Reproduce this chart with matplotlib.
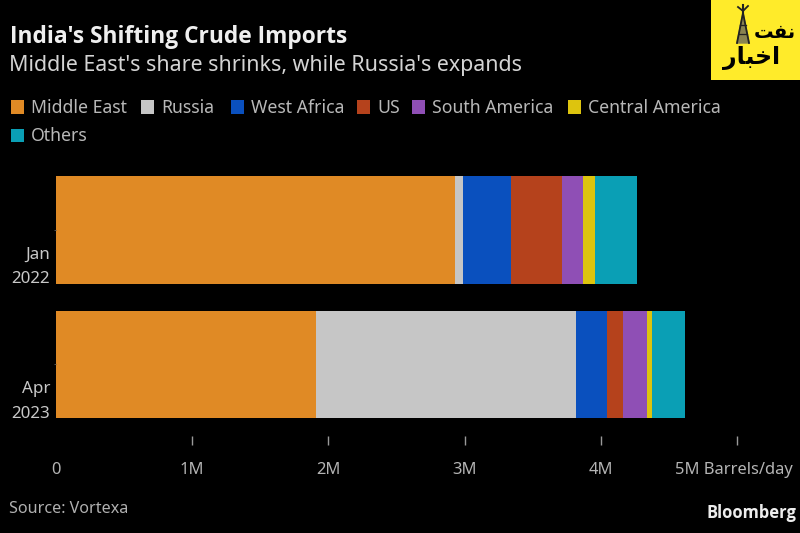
import matplotlib
matplotlib.use("Agg")
import matplotlib.pyplot as plt
from matplotlib.patches import Rectangle
from matplotlib.transforms import ScaledTranslation

W, H = 800, 533

periods = ["Jan\n2022", "Apr\n2023"]
regions = ["Middle East", "Russia", "West Africa", "US", "South America", "Central America", "Others"]
colors = ["#E08A25", "#C6C6C6", "#0A50BE", "#B5421C", "#8F4FB5", "#DDC40E", "#0A9FB5"]
jan_2022 = [2.93, 0.06, 0.35, 0.375, 0.155, 0.087, 0.31]
apr_2023 = [1.91, 1.91, 0.225, 0.118, 0.177, 0.036, 0.242]
xticks = [0, 1, 2, 3, 4, 5]
xticklabels = ["0", "1M", "2M", "3M", "4M", "5M Barrels/day"]

plt.rcParams["font.family"] = ["Noto Sans", "DejaVu Sans"]
fig = plt.figure(figsize=(W / 100, H / 100), dpi=100, facecolor="black")

def px(x, y):
    return x / W, 1 - y / H

#axes spans the 0-5M ticks, bottom edge sits at the top of the ticks
ax = fig.add_axes([56 / W, 1 - 436 / H, (737 - 56) / W, (436 - 162.75) / H], facecolor="black")
left = [0, 0]
for i in range(0, len(regions)):
    vals = [jan_2022[i], apr_2023[i]]
    ax.barh([0, 1], vals, left=left, height=0.8, color=colors[i], linewidth=0)
    left = [left[0] + vals[0], left[1] + vals[1]]
ax.set_xlim(0, 5)
ax.set_ylim(1.5316, -0.5)
for s in ax.spines.values():
    s.set_visible(False)
ax.set_xticks(xticks)
ax.set_xticklabels(xticklabels, fontsize=11.9, color="#B4B4B4")
ax.tick_params(axis="x", length=6.5, width=1, color="#9A9A9A", pad=12)
ax.xaxis.get_major_ticks()[0].tick1line.set_visible(False)
#last label sits a bit left of its tick
last = ax.get_xticklabels()[-1]
last.set_transform(last.get_transform() + ScaledTranslation(-3 / 100, 0, fig.dpi_scale_trans))
ax.set_yticks([0, 1])
ax.set_yticklabels([])
ax.tick_params(axis="y", length=1.5, width=0.7, color="#555555", pad=2)
for i in range(0, len(periods)):
    ax.annotate(periods[i], (0, i), xytext=(-6, -17), textcoords="offset pixels", ha="right", va="top",
                fontsize=12.2, color="#C8C8C8", linespacing=1.7, annotation_clip=False)

#titles
x, y = px(10, 37)
fig.text(x, y, "India's Shifting Crude Imports", fontsize=16.4, fontweight="bold", color="#EFEFEF", ha="left", va="center",
         family=["Open Sans", "DejaVu Sans"])
x, y = px(9, 65)
fig.text(x, y, "Middle East's share shrinks, while Russia's expands", fontsize=15.4, color="#D4D4D4", ha="left", va="center")

#legend, wraps on two rows like the original
legend_x = [11, 141, 231, 357, 412, 568, 11]
legend_y = [107, 107, 107, 107, 107, 107, 135]
for i in range(0, len(regions)):
    x, y = px(legend_x[i], legend_y[i] + 6.5)
    fig.add_artist(Rectangle((x, y), 13 / W, 13 / H, transform=fig.transFigure, facecolor=colors[i], linewidth=0))
    x, y = px(legend_x[i] + 20, legend_y[i] + 1)
    fig.text(x, y, regions[i], fontsize=12.7, color="#B8B8B8", ha="left", va="center")

#footer
x, y = px(9, 509)
fig.text(x, y, "Source: Vortexa", fontsize=11.6, color="#B0B0B0", ha="left", va="center")
x, y = px(796, 513)
fig.text(x, y, "Bloomberg", fontsize=11.9, fontweight="bold", color="#EDEDED", ha="right", va="center",
         family=["Open Sans", "DejaVu Sans"])

#logo
logo = fig.add_axes([711 / W, 1 - 80 / H, 89 / W, 80 / H], facecolor="#FFEB2A")
logo.set_xlim(711, 800)
logo.set_ylim(80, 0)
logo.set_xticks([])
logo.set_yticks([])
for s in logo.spines.values():
    s.set_visible(False)
logo.fill([737, 743, 749], [43, 13, 43], color="#8A8350")
logo.plot([737, 743, 749], [43, 13, 43], color="#222222", lw=1.3)
logo.plot([740, 746], [25, 25], color="#222222", lw=0.9)
logo.plot([739, 747], [34, 34], color="#222222", lw=0.9)
logo.plot([743, 743], [5, 13], color="#222222", lw=1.5)
logo.plot([738, 743, 748], [7, 11, 6], color="#222222", lw=1.3)
logo.text(775, 32, "\uFE96\uFED4\uFEE7", fontsize=14, fontweight="bold", color="black", ha="center", va="center", family="DejaVu Sans")
logo.text(752, 58, "\uFEAD\uFE8E\uFE92\uFEA7\uFE8D", fontsize=17, fontweight="bold", color="black", ha="center", va="center", family="DejaVu Sans")

fig.savefig("out.png", dpi=100, facecolor="black")
